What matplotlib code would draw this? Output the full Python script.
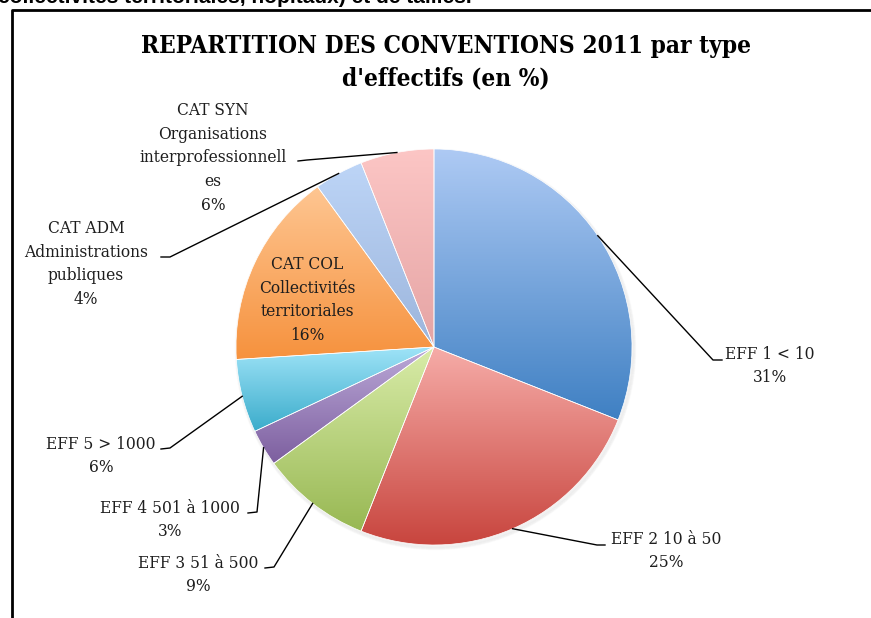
import numpy as np
import matplotlib.pyplot as plt
from matplotlib.colors import LinearSegmentedColormap

# slices, clockwise from 12 o'clock
labels = ['EFF 1 < 10', 'EFF 2 10 à 50', 'EFF 3 51 à 500', 'EFF 4 501 à 1000',
          'EFF 5 > 1000', 'CAT COL\nCollectivités\nterritoriales',
          'CAT ADM\nAdministrations\npubliques',
          'CAT SYN\nOrganisations\ninterprofessionnell\nes']
values = [31, 25, 9, 3, 6, 16, 4, 6]
tops = ['#aecaf4', '#f6aca8', '#d9eca9', '#bcaad9', '#a0e4f8', '#fec692', '#bdd5f7', '#fcc6c5']
bottoms = ['#3f80c3', '#c8453e', '#98b853', '#7d5f9f', '#3baccb', '#f6923e', '#9cb5dc', '#e5a4a4']

W, H = 871, 618
fig = plt.figure(figsize=(W / 100, H / 100), dpi=100)
ax = fig.add_axes([0, 0, 1, 1])

cx, cy, r = 434, H - 347, 198
wedges, _ = ax.pie(values, startangle=90, counterclock=False, center=(cx, cy), radius=r,
                   wedgeprops=dict(edgecolor='white', linewidth=0.5))

# vertical gradient inside each wedge
grad = np.linspace(0, 1, 256).reshape(-1, 1)
for w, c0, c1 in zip(wedges, tops, bottoms):
    ext = w.get_path().get_extents()
    cmap = LinearSegmentedColormap.from_list('g', [c1, c0])
    im = ax.imshow(grad, cmap=cmap, origin='lower', aspect='auto', zorder=0.8,
                   extent=[ext.x0, ext.x1, ext.y0, ext.y1], interpolation='bilinear')
    im.set_clip_path(w)
    w.set_facecolor('none')

# soft shadow
for k in range(3):
    ax.add_patch(plt.Circle((cx + 1.5, cy - 2.5), r + k, color='#999999', alpha=0.045, zorder=0.3))

ax.set_xlim(0, W)
ax.set_ylim(0, H)
ax.axis('off')

# label layout (image pixel coords): text centre, elbow, hook end
layout = [
    ((770, 366), (713, 360), (722, 360)),
    ((666, 551), (597, 545), (605, 545)),
    ((198, 575), (274, 567), (265, 568)),
    ((170, 520), (257, 512), (248, 513)),
    ((101, 456), (170, 448), (161, 449)),
    ((307, 300), None, None),
    ((86, 264), (170, 257), (161, 257)),
    ((213, 158), (307, 160), (298, 161)),
]

fnt = dict(family='DejaVu Serif', size=11.2, color='#1e1e1e')
cum = 0
for lab, v, (tc, el, hk) in zip(labels, values, layout):
    mid = np.deg2rad(90 - (cum + v / 2) * 3.6)
    cum += v
    ax.text(tc[0], H - tc[1], f'{lab}\n{v}%', ha='center', va='center',
            linespacing=1.52, **fnt)
    if el is not None:
        ax.plot([cx + r * np.cos(mid), el[0], hk[0]], [cy + r * np.sin(mid), H - el[1], H - hk[1]],
                color='black', lw=1.0, zorder=3)

fig.text(446 / W, 1 - 62 / H, "REPARTITION DES CONVENTIONS 2011 par type\nd'effectifs (en %)",
         ha='center', va='center', family='DejaVu Serif', stretch='condensed', weight='bold',
         size=17.5, linespacing=1.45)

# frame of the embedded chart and the cut-off line of document text above it
ax.plot([12, 12, W], [0, H - 10, H - 10], color='black', lw=2, zorder=5)
fig.text(-2 / W, 1 - 3 / H, 'collectivités territoriales, hôpitaux) et de tailles.',
         ha='left', va='baseline', family='Liberation Sans', weight='bold', size=15)

fig.savefig('out.png', dpi=100)
